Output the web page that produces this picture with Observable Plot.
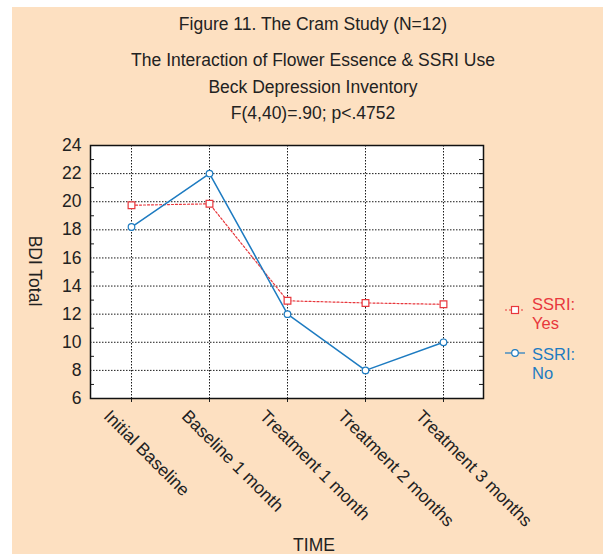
<!DOCTYPE html>
<html>
<head>
<meta charset="utf-8">
<script src="https://cdn.jsdelivr.net/npm/d3@7"></script>
<script src="https://cdn.jsdelivr.net/npm/@observablehq/plot@0.6"></script>
<style>
  html, body { margin: 0; padding: 0; background: #ffffff; }
  body { width: 603px; height: 554px; position: relative; overflow: hidden; font-family: "Liberation Sans", Arial, sans-serif; }
  #bg { position: absolute; left: 12px; top: 7px; width: 591px; height: 547px; background: #fde0c1; }
  #chart { position: absolute; left: 12px; top: 130px; }
  #chart svg text { font-size: 17.5px; }
  #overlay { position: absolute; left: 0; top: 0; }
</style>
</head>
<body>
<div id="bg"></div>
<div id="chart"></div>
<svg id="overlay" width="603" height="554"></svg>
<script>
const categories = ["Initial Baseline", "Baseline 1 month", "Treatment 1 month", "Treatment 2 months", "Treatment 3 months"];
const ssriYes = [19.75, 19.85, 12.95, 12.8, 12.7];
const ssriNo = [18.2, 22.0, 12.0, 8.0, 10.0];
const yTicks = [6, 8, 10, 12, 14, 16, 18, 20, 22, 24];
const yMinor = [7, 9, 11, 13, 15, 17, 19, 21, 23];
const yAll = [6,7,8,9,10,11,12,13,14,15,16,17,18,19,20,21,22,23,24];
const seriesNames = ["SSRI: Yes", "SSRI: No"];
const titles = ["Figure 11. The Cram Study (N=12)", "The Interaction of Flower Essence & SSRI Use", "Beck Depression Inventory", "F(4,40)=.90; p<.4752"];

const RED = "#e8373c", BLUE = "#1d7bc1";
const yesRows = categories.map((c, i) => ({time: c, value: ssriYes[i]}));
const noRows = categories.map((c, i) => ({time: c, value: ssriNo[i]}));

const W = 591, H = 424, mL = 78, mT = 15, mR = 120, mB = 156;
const FW = W - mL - mR;
const FS = 17.5;

const plot = Plot.plot({
  width: W, height: H,
  marginLeft: mL, marginTop: mT, marginRight: mR, marginBottom: mB,
  style: {background: "transparent", fontFamily: "Liberation Sans, Arial, sans-serif", fontSize: FS + "px", color: "#222"},
  x: {type: "point", domain: categories, padding: 0.5},
  y: {domain: [6, 24]},
  marks: [
    Plot.frame({fill: "white", stroke: null}),
    Plot.gridY(yTicks.slice(1, -1), {stroke: "#1a1a1a", strokeOpacity: 1, strokeWidth: 1, strokeDasharray: "1.5,1.5"}),
    Plot.gridX(categories, {stroke: "#1a1a1a", strokeOpacity: 1, strokeWidth: 1, strokeDasharray: "1.5,1.5"}),
    Plot.ruleY(yMinor, {stroke: "#1a1a1a", insetRight: FW - 4}),
    Plot.ruleY(yAll, {stroke: "#1a1a1a", insetLeft: FW - 4}),
    Plot.axisY({ticks: yTicks, tickSize: 0, tickPadding: 9, fontSize: FS, label: null, fill: "#222"}),
    Plot.axisX({tickSize: 4, tickFormat: () => "", label: null}),
    Plot.text(categories, {x: d => d, frameAnchor: "bottom", rotate: 45, textAnchor: "start", lineAnchor: "top", dx: -20, dy: 10, fontSize: FS, fill: "#222"}),
    Plot.frame({stroke: "#111", strokeWidth: 1.5}),
    Plot.line(yesRows, {x: "time", y: "value", stroke: RED, strokeWidth: 1.2, strokeDasharray: "2,2"}),
    Plot.line(noRows, {x: "time", y: "value", stroke: BLUE, strokeWidth: 1.5}),
    Plot.dot(yesRows, {x: "time", y: "value", symbol: "square", r: 3.8, fill: "white", stroke: RED, strokeWidth: 1.2}),
    Plot.dot(noRows, {x: "time", y: "value", symbol: "circle", r: 3.3, fill: "white", stroke: BLUE, strokeWidth: 1.2})
  ]
});
document.getElementById("chart").appendChild(plot);

// overlay text: titles, axis labels, legend
const svg = d3.select("#overlay").style("font-family", "Liberation Sans, Arial, sans-serif");
const titleY = [30, 66, 92.5, 119];
svg.selectAll("text.title").data(titles).join("text")
  .attr("class", "title")
  .attr("x", 313).attr("y", (d, i) => titleY[i])
  .attr("text-anchor", "middle").attr("font-size", 17.5).attr("fill", "#222")
  .text(d => d);

svg.append("text").attr("transform", "translate(29,271) rotate(90)")
  .attr("text-anchor", "middle").attr("font-size", 17.5).attr("fill", "#222").text("BDI Total");
svg.append("text").attr("x", 314).attr("y", 551)
  .attr("text-anchor", "middle").attr("font-size", 17.5).attr("fill", "#222").text("TIME");

const leg = [
  {name: seriesNames[0], color: RED, dash: "2,2", y: 310, ty: 309.5, sym: "square"},
  {name: seriesNames[1], color: BLUE, dash: null, y: 353, ty: 360, sym: "circle"}
];
leg.forEach(l => {
  const g = svg.append("g");
  g.append("line").attr("x1", 505).attr("x2", 525).attr("y1", l.y).attr("y2", l.y)
    .attr("stroke", l.color).attr("stroke-width", 1.2).attr("stroke-dasharray", l.dash);
  if (l.sym === "square") {
    g.append("rect").attr("x", 511.5).attr("y", l.y - 3.5).attr("width", 7).attr("height", 7)
      .attr("fill", "white").attr("stroke", l.color).attr("stroke-width", 1.2);
  } else {
    g.append("circle").attr("cx", 515).attr("cy", l.y).attr("r", 3.3)
      .attr("fill", "white").attr("stroke", l.color).attr("stroke-width", 1.2);
  }
  const parts = l.name.split(" ");
  g.append("text").attr("font-size", 16.5).attr("fill", l.color)
    .attr("x", 532).attr("y", l.ty).text(parts[0]);
  g.append("text").attr("font-size", 16.5).attr("fill", l.color)
    .attr("x", 532).attr("y", l.ty + 19).text(parts[1]);
});
</script>
</body>
</html>
